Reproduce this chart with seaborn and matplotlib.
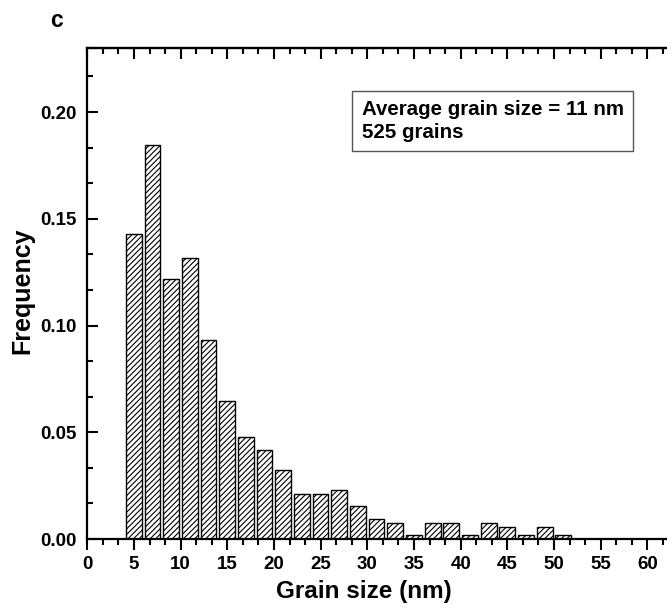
import numpy as np
import pandas as pd
import matplotlib
matplotlib.use("Agg")
import matplotlib.pyplot as plt
from matplotlib.ticker import MultipleLocator, FormatStrFormatter
import seaborn as sns

# ---- data ----
bin_centers = [5, 7, 9, 11, 13, 15, 17, 19, 21, 23, 25, 27, 29, 31,
               33, 35, 37, 39, 41, 43, 45, 47, 49, 51]
grain_counts = [75, 97, 64, 69, 49, 34, 25, 22, 17, 11, 11, 12, 8, 5,
                4, 1, 4, 4, 1, 4, 3, 1, 3, 1]
n_grains = 525
frequency = [c / n_grains for c in grain_counts]
x_tick_labels = [str(v) for v in range(0, 65, 5)]
y_tick_values = [0.00, 0.05, 0.10, 0.15, 0.20]
annotation = "Average grain size = 11 nm\n525 grains"

df = pd.DataFrame({"size": bin_centers, "freq": frequency})

sns.set_theme(style="ticks")
plt.rcParams["font.family"] = ["Liberation Sans", "DejaVu Sans"]
plt.rcParams["font.weight"] = "bold"
plt.rcParams["hatch.linewidth"] = 0.8
for key in ["text.color", "axes.labelcolor", "xtick.color", "ytick.color",
            "axes.edgecolor", "xtick.labelcolor", "ytick.labelcolor"]:
    plt.rcParams[key] = "black"

fig = plt.figure(figsize=(6.67, 6.11), dpi=100)
ax = fig.add_axes([0.1309, 0.1178, 0.8886, 0.8036])

sns.barplot(data=df, x="size", y="freq", native_scale=True, width=0.84,
            color="white", edgecolor="black", linewidth=1.0,
            hatch="//////", errorbar=None, ax=ax)
for p in ax.patches:
    p.set_facecolor("white")
    p.set_edgecolor("black")

ax.set_xlim(0, 63.5)
ax.set_ylim(0, 0.23)

ax.xaxis.set_major_locator(MultipleLocator(5))
ax.xaxis.set_minor_locator(MultipleLocator(5 / 3))
ax.set_xticks(range(0, 65, 5))
ax.set_xticklabels(x_tick_labels)
ax.set_yticks(y_tick_values)
ax.yaxis.set_major_formatter(FormatStrFormatter("%.2f"))
ax.yaxis.set_minor_locator(MultipleLocator(0.05 / 3))

for s in ["left", "bottom", "top"]:
    ax.spines[s].set_linewidth(1.6)
    ax.spines[s].set_color("black")
    ax.spines[s].set_visible(True)
ax.spines["right"].set_visible(False)

ax.tick_params(axis="x", which="major", direction="out", length=8, width=1.5,
               labelsize=13.5, pad=4, color="black", labelcolor="black")
ax.tick_params(axis="x", which="minor", direction="out", length=4.5, width=1.5,
               color="black")
ax.tick_params(axis="y", which="major", direction="in", length=8, width=1.5,
               labelsize=13.5, pad=8, color="black", labelcolor="black")
ax.tick_params(axis="y", which="minor", direction="in", length=4.5, width=1.5,
               color="black")
for lab in ax.get_xticklabels() + ax.get_yticklabels():
    lab.set_fontweight("bold")

# top axis with inward ticks, no labels
top = ax.secondary_xaxis("top")
top.xaxis.set_major_locator(MultipleLocator(5))
top.xaxis.set_minor_locator(MultipleLocator(5 / 3))
top.tick_params(axis="x", which="major", direction="in", length=8, width=1.5,
                labeltop=False, color="black")
top.tick_params(axis="x", which="minor", direction="in", length=4.5, width=1.5,
                color="black")
top.spines["top"].set_linewidth(1.6)
top.spines["top"].set_color("black")

ax.set_xlabel("Grain size (nm)", fontsize=17.5, fontweight="bold", color="black")
ax.set_ylabel("Frequency", fontsize=18, fontweight="bold", color="black")
ax.xaxis.set_label_coords(0.466, -0.083)
ax.yaxis.set_label_coords(-0.09, 0.505)

ax.text(0.463, 0.894, annotation, transform=ax.transAxes, ha="left", va="top",
        fontsize=14.8, fontweight="bold", linespacing=1.25, color="black",
        bbox=dict(boxstyle="square,pad=0.45", facecolor="white",
                  edgecolor="#555555", linewidth=1.0))

fig.text(50 / 667, 1 - 27 / 611, "c", fontsize=16.5, fontweight="bold",
         ha="left", va="baseline", color="black")

fig.savefig("out.png", dpi=100)
